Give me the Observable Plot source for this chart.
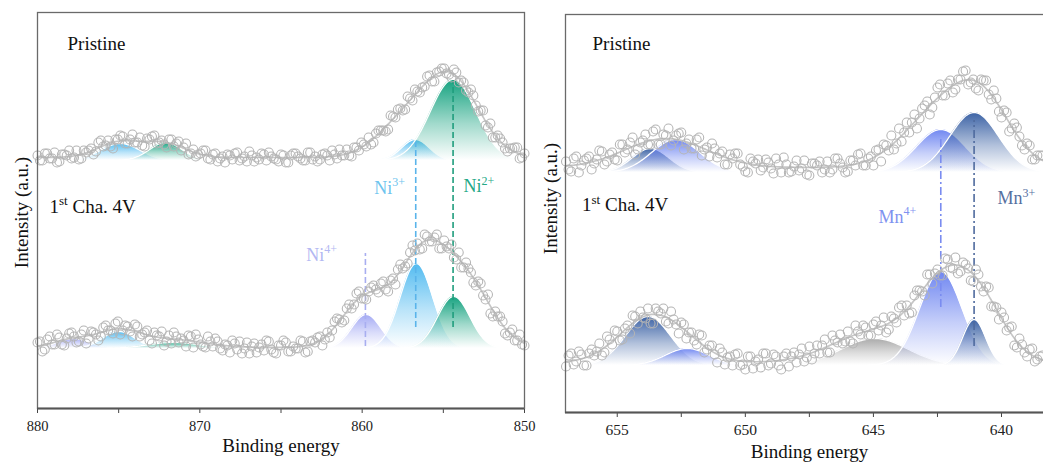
<!DOCTYPE html>
<html>
<head>
<meta charset="utf-8">
<script src="https://cdn.jsdelivr.net/npm/d3@7"></script>
<script src="https://cdn.jsdelivr.net/npm/@observablehq/plot@0.6"></script>
<style>
html, body { margin: 0; padding: 0; background: #fff; overflow: hidden; }
#wrap { position: relative; width: 1043px; height: 464px; overflow: hidden; background: #fff; }
#left { position: absolute; left: 0; top: 0; width: 540px; height: 464px; }
#right { position: absolute; left: 540px; top: 0; width: 513px; height: 464px; }
svg.plotsvg { max-width: none !important; display: block; }
svg.plotsvg text { font-family: 'Liberation Serif', 'Times New Roman', serif !important; }
</style>
</head>
<body>
<svg width="0" height="0" style="position:absolute"><defs id="gradDefs"></defs></svg>
<div id="wrap"><div id="left"></div><div id="right"></div></div>
<script>
// ---------------- DATA ----------------
// Ni 2p spectra: binding energy 880 -> 850 eV, every 0.3 eV, plus interleaved scan offset by 0.15 eV
const niStart = 880, niStep = 0.3;
const niPristineCounts = [253,248,255,250,246,254,253,250,258,250,
 256,260,257,268,263,262,269,273,265,269,
 266,271,262,269,273,266,264,269,262,267,
 261,254,259,254,258,250,254,247,252,254,
 249,256,250,247,253,251,255,248,252,249,
 254,246,253,255,250,248,256,252,249,255,
 248,254,259,253,253,261,258,264,271,266,
 278,278,279,292,299,298,312,308,317,321,
 332,327,336,340,335,331,336,328,318,319,
 303,298,283,285,271,270,260,260,261,250,
 255];
const niPristineCounts2 = [248,255,250,256,247,254,258,251,249,258,
 258,254,266,262,268,260,269,272,265,274,
 266,263,270,272,265,268,261,269,265,258,
 265,255,252,255,258,249,255,250,246,253,
 255,248,252,257,247,249,254,256,250,247,
 253,246,255,252,248,256,249,247,254,253,
 258,250,253,259,252,261,266,262,264,275,
 278,277,293,291,300,299,310,319,316,322,
 333,327,337,340,334,339,326,326,316,313,
 297,298,281,271,273,266,257,260,261,251];
const niChargedCounts = [66,57,69,64,74,64,70,76,66,74,
 65,77,74,72,83,78,85,74,83,77,
 84,72,76,68,76,72,63,73,76,66,
 68,73,61,69,62,72,62,67,58,63,
 68,59,55,66,62,56,64,68,59,55,
 63,66,57,60,68,56,67,66,72,69,
 71,87,89,88,104,104,117,110,117,123,
 116,127,117,130,139,140,145,163,165,160,
 172,167,174,160,162,164,149,141,146,136,
 123,125,109,95,97,92,75,76,68,74,
 63];
const niChargedCounts2 = [67,59,72,64,71,63,75,72,67,78,
 70,76,68,81,78,75,87,78,82,72,
 82,74,78,65,73,77,67,65,72,70,
 62,72,74,64,61,67,70,60,64,56,
 65,67,60,55,65,61,58,67,56,63,
 68,57,62,60,67,57,68,71,63,76,
 78,90,86,100,100,115,110,109,121,119,
 125,119,128,124,144,142,156,158,159,174,
 167,171,160,168,160,151,156,141,140,126,
 127,113,114,92,92,87,73,79,68,64];
// Mn 2p spectra: binding energy 657 -> 638.4 eV, every 0.2 eV, plus interleaved scan offset by 0.1 eV
const mnStart = 657.0, mnStep = 0.2;
const mnPristineCounts = [251,241,256,247,254,243,253,261,251,260,
 252,268,263,275,263,272,268,281,268,278,
 284,272,279,263,273,264,275,263,256,264,
 259,248,258,259,248,241,254,249,242,253,
 244,254,240,248,241,252,244,238,249,247,
 240,251,243,254,245,241,252,258,247,254,
 247,263,268,262,263,284,280,280,298,294,
 307,298,315,328,317,332,323,333,342,330,
 324,333,332,313,314,295,300,284,285,267,
 269,253,257,257];
const mnPristineCounts2 = [243,254,240,252,256,249,262,248,258,253,
 268,260,270,258,270,278,268,283,268,277,
 267,277,280,269,264,273,257,265,269,255,
 261,248,254,259,246,240,251,253,245,250,
 239,248,255,240,246,242,252,237,249,251,
 243,240,254,249,240,252,247,259,247,256,
 262,251,267,277,269,271,290,290,284,304,
 311,305,325,317,329,320,333,341,328,333,
 322,332,318,322,301,302,281,289,276,263,
 267,253,257];
const mnChargedCounts = [46,59,51,58,47,63,61,57,76,68,
 81,73,87,97,89,95,104,89,101,104,
 89,93,79,88,80,72,78,60,67,58,
 64,48,56,58,47,43,56,51,45,59,
 49,56,43,59,56,50,64,55,53,67,
 67,60,77,70,69,81,69,81,87,77,
 88,82,95,83,94,105,97,99,117,122,
 117,138,139,137,154,145,155,141,148,132,
 143,126,126,106,105,100,82,86,65,68,
 56,64,53,57];
const mnChargedCounts2 = [57,48,61,47,59,57,69,60,73,82,
 72,84,79,96,101,94,89,104,99,91,
 101,88,90,74,80,68,77,63,67,50,
 60,55,47,59,48,56,44,53,59,47,
 58,47,56,46,60,58,51,66,59,59,
 73,60,72,78,71,71,87,78,85,77,
 91,87,80,96,90,107,107,100,122,121,
 138,129,143,137,153,144,139,150,144,131,
 138,121,125,106,93,95,85,67,74,60,
 63,51,56];

// Envelope (overall fit) peaks: [center eV, height, sigma eV]; background levels
const niPristineFit = [[875.0,15,1.3],[872.2,14,1.3],[857.4,33,1.7],[854.5,77,1.7]];
const niChargedFit = [[877.8,8,1.2],[875.0,16,1.3],[871.8,8,2.0],[859.9,46,1.4],[856.2,95,1.6],[853.4,55,1.5]];
const mnPristineFit = [[653.1,29,1.6],[642.4,55,1.4],[640.7,55,1.1]];
const mnChargedFit = [[653.7,46,1.2],[652.2,8,0.9],[645.0,30,1.6],[642.3,70,1.1],[640.8,50,1.0]];
const fitBackgrounds = [251, 61, 245, 50];   // Ni pristine, Ni charged, Mn pristine, Mn charged

// Deconvoluted components: [species, center eV, height, sigma eV]
const niPristinePeaks = [["Ni3+",874.9,17,1.2],["Ni2+",872.1,18,1.0],["Ni3+",856.72,21,0.85],["Ni2+",854.4,81,1.4]];
const niChargedPeaks = [["Ni4+",877.8,10,1.0],["Ni3+",875.0,17,1.0],["Ni2+",871.6,6,1.6],["Ni4+",859.75,34,0.9],["Ni3+",856.66,85,1.0],["Ni2+",854.36,52,1.0]];
const mnPristinePeaks = [["Mn3+",653.7,24,0.72],["Mn4+",652.72,33,0.94],["Mn4+",642.37,43,0.95],["Mn3+",641.07,60,0.95]];
const mnChargedPeaks = [["Mn3+",653.8,49,0.88],["Mn4+",652.27,17,0.85],["sat",644.95,27,1.3],["Mn4+",642.37,94,0.83],["Mn3+",641.07,46,0.45]];
const peakBackgrounds = [248, 60, 240, 47];

// Peak-position markers: [species, energy, from intensity, to intensity]
const niMarkers = [["Ni4+",859.8,62,155],["Ni3+",856.7,81,266],["Ni2+",854.4,81,328]];
const mnMarkers = [["Mn4+",642.37,105,274],["Mn3+",641.07,66,292]];
// Labels: [element, charge, energy, intensity]
const niLabels = [["Ni","4+",863.44,153],["Ni","3+",859.25,220.5],["Ni","2+",853.76,221.8]];
const mnLabels = [["Mn","4+",644.8,195],["Mn","3+",640.16,213.8]];

// ---------------- STYLE ----------------
const fillColor = {"Ni2+":"#14a27f","Ni3+":"#52bbf0","Ni4+":"#a3a9f4","Mn3+":"#3b62a5","Mn4+":"#6f86f1","sat":"#a9a9a9"};
const markColor = {"Ni2+":"#1f9d7d","Ni3+":"#5ab4ea","Ni4+":"#a8aef0","Mn3+":"#4f6a9e","Mn4+":"#7a8cf0"};
const labelColor = {"Ni2+":"#23a886","Ni3+":"#6ec4ee","Ni4+":"#b3b8f2","Mn3+":"#56709f","Mn4+":"#7f92f0"};
const gid = s => "grad-" + s.replace("+", "p");
const defs = d3.select("#gradDefs");
for (const [k, c] of Object.entries(fillColor)) {
  const g = defs.append("linearGradient").attr("id", gid(k)).attr("x1", 0).attr("y1", 0).attr("x2", 0).attr("y2", 1);
  g.append("stop").attr("offset", "0%").attr("stop-color", c).attr("stop-opacity", 1);
  g.append("stop").attr("offset", "55%").attr("stop-color", c).attr("stop-opacity", 0.4);
  g.append("stop").attr("offset", "100%").attr("stop-color", c).attr("stop-opacity", 0);
}
const FONT = "'Liberation Serif', 'Times New Roman', serif";

function gauss(E, c, h, s) { return h * Math.exp(-((E - c) ** 2) / (2 * s * s)); }
function grid(a, b, step) {
  const out = []; const n = Math.round(Math.abs(b - a) / step);
  for (let i = 0; i <= n; i++) out.push(a + (b > a ? 1 : -1) * i * step);
  return out;
}

function componentMarks(peaks, base, lo, hi) {
  const marks = [];
  for (const [sp, c, h, s] of peaks) {
    const a = Math.max(lo, c - 4 * s), b = Math.min(hi, c + 4 * s);
    const pts = grid(a, b, s / 25).map(E => ({E, y1: base, y2: base + gauss(E, c, h, s)}));
    marks.push(Plot.areaY(pts, {x: "E", y1: "y1", y2: "y2", fill: `url(#${gid(sp)})`}));
    marks.push(Plot.lineY(pts, {x: "E", y: "y2", stroke: "white", strokeWidth: 1.3}));
  }
  return marks;
}
function envelopeMark(fit, base, lo, hi) {
  const pts = grid(hi, lo, 0.05).map(E => ({E, I: base + d3.sum(fit, ([c, h, s]) => gauss(E, c, h, s))}));
  return Plot.line(pts, {x: "E", y: "I", stroke: "#c6c6c6", strokeWidth: 1.7});
}
function dotMark(counts, start, step) {
  const pts = counts.map((v, i) => ({E: start - i * step, I: v}));
  return Plot.dot(pts, {x: "E", y: "I", r: 4.5, stroke: "#b4b4b4", strokeWidth: 1.05, fill: "none"});
}
function markerMarks(markers, dash) {
  return markers.map(m => Plot.ruleX([m], {x: d => d[1], y1: d => d[2], y2: d => d[3],
    stroke: markColor[m[0]], strokeWidth: 1.6, strokeDasharray: dash}));
}
function labelMarks(labels, baseWidth) {
  const out = [];
  for (const l of labels) {
    const col = labelColor[l[0] + l[1]];
    out.push(Plot.text([l], {x: d => d[2], y: d => d[3], text: d => d[0], fill: col, fontSize: 18,
      textAnchor: "start", lineAnchor: "middle", fontFamily: FONT}));
    out.push(Plot.text([l], {x: d => d[2], y: d => d[3], text: d => d[1], fill: col, fontSize: 12,
      textAnchor: "start", lineAnchor: "middle", dx: baseWidth, dy: -6, fontFamily: FONT}));
  }
  return out;
}
function annot(txt, size, dx, dy) {
  return Plot.text([txt], {frameAnchor: "top-left", text: d => d, fontSize: size,
    textAnchor: "start", lineAnchor: "middle", dx, dy, fill: "#111", fontFamily: FONT});
}
function fixAxis(svg, size) {
  d3.select(svg).selectAll('g[aria-label^="x-axis"]').attr("font-family", FONT).attr("font-size", size);
  d3.select(svg).selectAll('g[aria-label^="x-axis"] text').attr("fill", "#222");
  svg.classList.add("plotsvg");
  svg.style.maxWidth = "none";
}

// ---------------- LEFT: Ni 2p ----------------
const leftPlot = Plot.plot({
  width: 540, height: 464,
  marginLeft: 37, marginRight: 16, marginTop: 12, marginBottom: 56,
  style: {fontFamily: FONT, fontSize: "14.5px", background: "white", color: "#444"},
  x: {domain: [880, 850], ticks: [880, 875, 870, 865, 860, 855, 850],
      tickFormat: d => d % 10 === 0 ? String(d) : "", tickSize: 5, tickPadding: 7, label: null},
  y: {domain: [0, 396], axis: null},
  marks: [
    ...componentMarks(niPristinePeaks, peakBackgrounds[0], 850, 880),
    ...componentMarks(niChargedPeaks, peakBackgrounds[1], 850, 880),
    ...markerMarks(niMarkers, "6,3"),
    envelopeMark(niPristineFit, fitBackgrounds[0], 850, 880),
    envelopeMark(niChargedFit, fitBackgrounds[1], 850, 880),
    dotMark(niPristineCounts, niStart, niStep),
    dotMark(niPristineCounts2, niStart - niStep / 2, niStep),
    dotMark(niChargedCounts, niStart, niStep),
    dotMark(niChargedCounts2, niStart - niStep / 2, niStep),
    ...labelMarks(niLabels, 18),
    Plot.frame({stroke: "#6a6a6a", strokeWidth: 1.3}),
    Plot.ruleY([0], {stroke: "#555", strokeWidth: 2}),
    annot("Pristine", 19, 30, 31.2),
    annot("1", 19, 12, 194.2),
    annot("st", 13, 21.5, 188.5),
    annot("Cha. 4V", 19, 35, 194.2),
    Plot.text(["Intensity (a.u.)"], {frameAnchor: "left", text: d => d, rotate: -90, fontSize: 19,
      textAnchor: "middle", lineAnchor: "middle", dx: -16, dy: 2, fill: "#111", fontFamily: FONT}),
    Plot.text(["Binding energy"], {frameAnchor: "bottom", text: d => d, fontSize: 19,
      textAnchor: "middle", lineAnchor: "middle", dy: 37, fill: "#111", fontFamily: FONT})
  ]
});
fixAxis(leftPlot, 14.5);
document.getElementById("left").append(leftPlot);

// ---------------- RIGHT: Mn 2p ----------------
const rightPlot = Plot.plot({
  width: 513, height: 464,
  marginLeft: 25, marginRight: 0, marginTop: 14, marginBottom: 52,
  style: {fontFamily: FONT, fontSize: "15.5px", background: "white", color: "#444"},
  x: {domain: [657.02, 637.97], ticks: [655, 652.5, 650, 647.5, 645, 642.5, 640],
      tickFormat: d => (Number.isInteger(d) && d % 5 === 0) ? String(d) : "", tickSize: 5, tickPadding: 6, label: null},
  y: {domain: [0, 398], axis: null},
  marks: [
    ...componentMarks(mnPristinePeaks, peakBackgrounds[2], 637.97, 657.02),
    ...componentMarks(mnChargedPeaks, peakBackgrounds[3], 637.97, 657.02),
    ...markerMarks(mnMarkers, "8,3,2,3"),
    envelopeMark(mnPristineFit, fitBackgrounds[2], 637.97, 657.02),
    envelopeMark(mnChargedFit, fitBackgrounds[3], 637.97, 657.02),
    dotMark(mnPristineCounts, mnStart, mnStep),
    dotMark(mnPristineCounts2, mnStart - mnStep / 2, mnStep),
    dotMark(mnChargedCounts, mnStart, mnStep),
    dotMark(mnChargedCounts2, mnStart - mnStep / 2, mnStep),
    ...labelMarks(mnLabels, 25),
    Plot.frame({stroke: "#6a6a6a", strokeWidth: 1.3}),
    Plot.ruleY([0], {stroke: "#555", strokeWidth: 2}),
    annot("Pristine", 19, 27, 29.2),
    annot("1", 19, 16.5, 190.6),
    annot("st", 13, 26, 184.9),
    annot("Cha. 4V", 19, 39.5, 190.6),
    Plot.text(["Intensity (a.u.)"], {frameAnchor: "left", text: d => d, rotate: -90, fontSize: 19,
      textAnchor: "middle", lineAnchor: "middle", dx: -15, dy: -15, fill: "#111", fontFamily: FONT}),
    Plot.text(["Binding energy"], {frameAnchor: "bottom", text: d => d, fontSize: 19,
      textAnchor: "middle", lineAnchor: "middle", dy: 39, fill: "#111", fontFamily: FONT})
  ]
});
fixAxis(rightPlot, 15.5);
document.getElementById("right").append(rightPlot);
</script>
</body>
</html>
